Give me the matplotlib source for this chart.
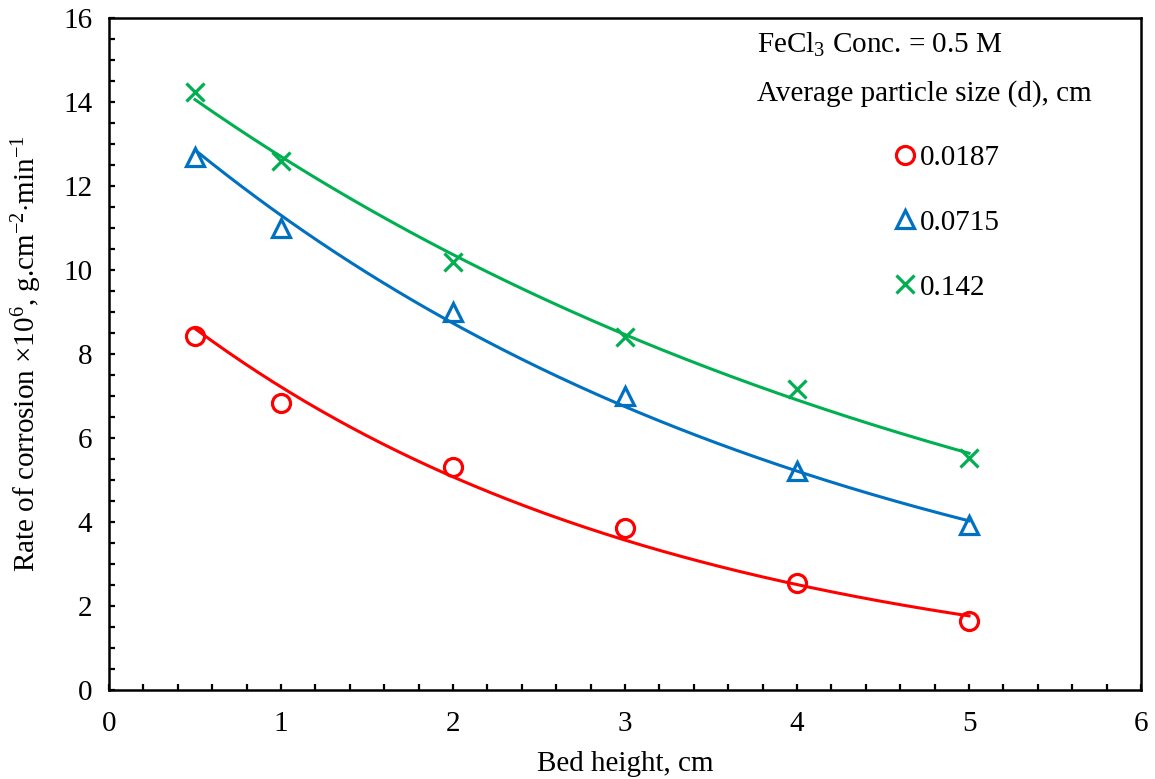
import numpy as np
import matplotlib
matplotlib.use("Agg")
import matplotlib.pyplot as plt
from matplotlib.ticker import MultipleLocator

plt.rcParams['font.family'] = ['Liberation Serif', 'DejaVu Serif']
plt.rcParams['mathtext.fontset'] = 'custom'
plt.rcParams['mathtext.rm'] = 'Liberation Serif'
plt.rcParams['mathtext.it'] = 'Liberation Serif:italic'

# data
bed_height = [0.5, 1, 2, 3, 4, 5]
rate_0187 = [8.43, 6.83, 5.31, 3.86, 2.56, 1.65]
rate_0715 = [12.7, 11.0, 9.0, 7.0, 5.21, 3.92]
rate_142 = [14.23, 12.6, 10.2, 8.41, 7.17, 5.53]

sizes = ["0.0187", "0.0715", "0.142"]
colors = ["#FF0000", "#0070C0", "#00B050"]
markers = ["o", "^", "x"]

FS = 21

fig = plt.figure(figsize=(11.55, 7.79), dpi=100)
ax = fig.add_axes([0.0944, 0.1142, 0.8935, 0.8627])

x_fit = np.linspace(0.5, 5, 200)
for y, lab, c, m in zip([rate_0187, rate_0715, rate_142], sizes, colors, markers):
    # exponential trendline, like Excel
    b, a = np.polyfit(bed_height, np.log(y), 1)
    ax.plot(x_fit, np.exp(a) * np.exp(b * x_fit), color=c, lw=2.2)
    if m == "x":
        ax.plot(bed_height, y, ls="none", marker=m, ms=13, mew=2.3,
                color=c, label=lab)
    else:
        ax.plot(bed_height, y, ls="none", marker=m, ms=13, mew=2.3,
                mfc="none", mec=c, label=lab)

ax.set_xlim(0, 6)
ax.set_ylim(0, 16)
ax.xaxis.set_major_locator(MultipleLocator(1))
ax.xaxis.set_minor_locator(MultipleLocator(0.2))
ax.yaxis.set_major_locator(MultipleLocator(2))
ax.yaxis.set_minor_locator(MultipleLocator(0.5))
ax.tick_params(which="both", direction="in", length=4, width=1.6,
               labelsize=FS, pad=12)
ax.tick_params(axis="x", pad=15)
ax.tick_params(which="both", top=False, right=False)
for s in ax.spines.values():
    s.set_linewidth(1.8)

ax.set_xlabel("Bed height, cm", fontsize=FS, labelpad=10)
ax.set_ylabel(r"Rate of corrosion $\times$10$^{6}$, g.cm$^{-2}$$\cdot$min$^{-1}$",
              fontsize=FS, labelpad=14)

ax.text(0.628, 0.960, r"FeCl$_3$ Conc. = 0.5 M", transform=ax.transAxes,
        fontsize=FS, va="center", ha="left")
ax.text(0.628, 0.887, "Average particle size (d), cm", transform=ax.transAxes,
        fontsize=FS, va="center", ha="left")

leg = ax.legend(loc="upper left", bbox_to_anchor=(0.763, 0.812), frameon=False,
                fontsize=FS, handlelength=0.6, handletextpad=0.2,
                labelspacing=1.32, borderaxespad=0, borderpad=0)

fig.savefig("out.png", dpi=100)
